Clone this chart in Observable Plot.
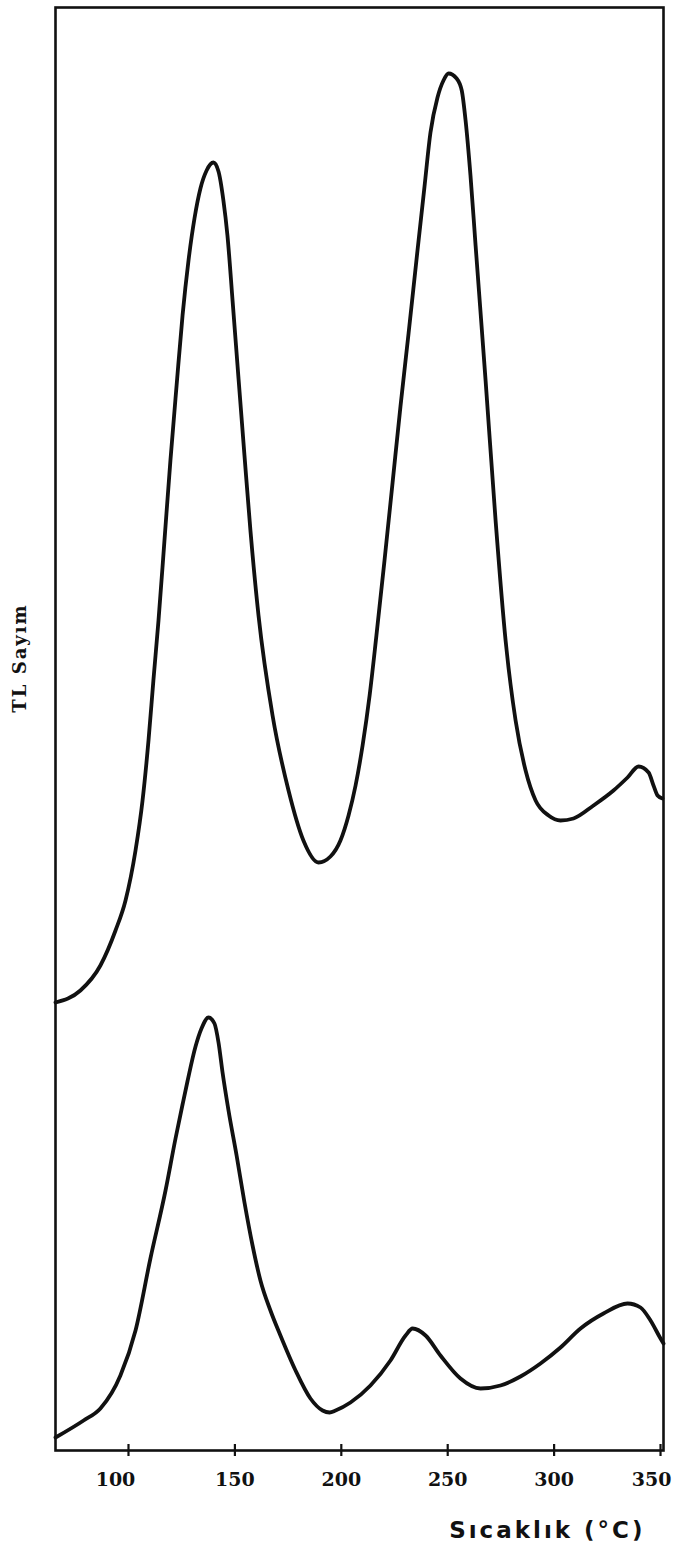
<!DOCTYPE html>
<html>
<head>
<meta charset="utf-8">
<script src="https://cdn.jsdelivr.net/npm/d3@7"></script>
<script src="https://cdn.jsdelivr.net/npm/@observablehq/plot@0.6"></script>
<style>
  html, body { margin: 0; padding: 0; background: #fff; }
  #chart svg { display: block; }
</style>
</head>
<body>
<div id="chart"></div>
<script>
// Temperature (°C) readings, upper glow curve
const upperT = [65.7, 77.4, 86.8, 93.9, 98.6, 103.3, 106.6, 109.4, 111.7, 114.1, 116.9, 119.7, 122.6, 125.4, 128.2, 131.0, 133.8, 136.7, 139.9, 142.3, 144.6, 146.5, 148.9, 151.7, 154.5, 157.3, 161.1, 167.7, 175.2, 182.2, 189.3, 194.9, 199.6, 203.4, 206.7, 210.0, 213.3, 216.5, 220.3, 224.1, 227.8, 231.6, 235.8, 239.1, 241.9, 245.2, 248.0, 250.4, 254.2, 256.6, 258.4, 260.7, 263.1, 267.8, 272.5, 277.2, 281.9, 286.6, 291.3, 297.4, 303.0, 309.1, 318.5, 327.9, 334.5, 339.7, 344.4, 346.7, 348.6, 350.9];
// TL counts (arbitrary units), upper glow curve
const upperTL = [448, 460, 485, 520, 550, 600, 650, 710, 770, 830, 910, 990, 1065, 1135, 1190, 1232, 1262, 1280, 1288, 1279, 1250, 1215, 1150, 1072, 995, 920, 835, 735, 660, 610, 588, 594, 610, 635, 665, 705, 755, 815, 890, 968, 1044, 1117, 1200, 1264, 1318, 1353, 1370, 1377, 1372, 1360, 1330, 1275, 1205, 1070, 930, 810, 730, 680, 650, 635, 630, 632, 645, 660, 673, 684, 678, 665, 655, 652];

// Temperature (°C) readings, lower glow curve
const lowerT = [65.7, 78.9, 86.8, 96.2, 103.3, 110.3, 117.4, 122.1, 125.4, 127.7, 131.5, 134.3, 137.6, 140.4, 142.3, 144.2, 147.0, 150.8, 154.5, 158.3, 162.0, 166.7, 171.4, 178.5, 185.5, 191.2, 194.5, 197.3, 204.3, 213.7, 223.1, 230.2, 233.5, 239.6, 246.6, 256.0, 265.4, 274.8, 284.2, 293.6, 303.0, 312.4, 323.2, 334.5, 340.6, 345.3, 350.0, 351.4];
// TL counts (arbitrary units), lower glow curve
const lowerTL = [13, 30, 42, 75, 120, 192, 260, 312, 346, 369, 404, 422, 433, 427, 408, 378, 340, 295, 248, 205, 170, 140, 115, 80, 52, 40, 38, 40, 48, 65, 90, 115, 122, 115, 95, 72, 62, 65, 74, 87, 103, 122, 137, 147, 143, 130, 112, 107];

const xTicks = [100, 150, 200, 250, 300, 350];
const xLabel = "Sıcaklık (°C)";
const yLabel = "TL Sayım";

const upper = upperT.map((t, i) => ({t, v: upperTL[i]}));
const lower = lowerT.map((t, i) => ({t, v: lowerTL[i]}));

const first = xTicks[0];
const last = xTicks[xTicks.length - 1];
const labelFont = {fontSize: 19, fontWeight: "bold", fill: "#111", frameAnchor: "bottom", dy: 35};

const chart = Plot.plot({
  width: 676,
  height: 1557,
  marginLeft: 55,
  marginRight: 13,
  marginTop: 7,
  marginBottom: 107,
  style: {fontFamily: "DejaVu Serif", color: "#111", background: "#fff"},
  x: {domain: [65.7, 351.4]},
  y: {domain: [0, 1443], axis: null},
  marks: [
    Plot.frame({stroke: "#111", strokeWidth: 2.6}),
    Plot.line(upper, {x: "t", y: "v", curve: "monotone-x", stroke: "#111", strokeWidth: 3.8, strokeLinejoin: "round"}),
    Plot.line(lower, {x: "t", y: "v", curve: "monotone-x", stroke: "#111", strokeWidth: 3.8, strokeLinejoin: "round"}),
    Plot.axisX({ticks: xTicks, tickSize: 12, dy: -6, tickFormat: () => "", strokeWidth: 2.2, label: null}),
    Plot.text(xTicks.filter(d => d !== first && d !== last), {x: d => d, text: d => String(d), ...labelFont}),
    Plot.text([first], {x: d => d, text: d => String(d), ...labelFont, dx: -13}),
    Plot.text([last], {x: d => d, text: d => String(d), ...labelFont, dx: -9}),
    Plot.text([xLabel], {frameAnchor: "bottom-right", dx: -18, dy: 87, fontSize: 23, fontWeight: "bold", fontFamily: "DejaVu Sans", textAnchor: "end", fill: "#111", className: "xlab"}),
    Plot.text([yLabel], {frameAnchor: "left", textAnchor: "middle", rotate: -90, dx: -35, dy: -71, fontSize: 18, fontWeight: "bold", fill: "#111", className: "ylab"})
  ]
});
d3.select(chart).selectAll(".xlab text").attr("letter-spacing", 3);
d3.select(chart).selectAll(".ylab text").attr("letter-spacing", 2);
document.getElementById("chart").appendChild(chart);
</script>
</body>
</html>
